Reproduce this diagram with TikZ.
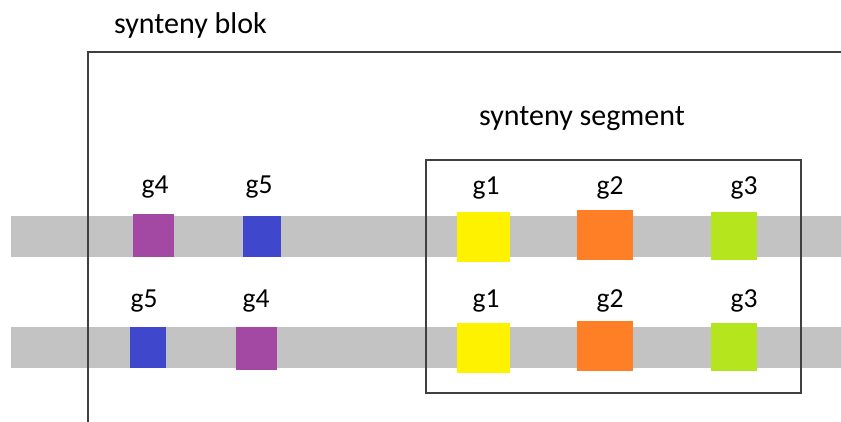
\documentclass[tikz,border=0pt]{standalone}
\usepackage{fontspec}
\setmainfont{Carlito}
\definecolor{barGray}{HTML}{C3C3C3}
\definecolor{gPurple}{HTML}{A349A4}
\definecolor{gBlue}{HTML}{3F48CC}
\definecolor{gYellow}{HTML}{FFF200}
\definecolor{gOrange}{HTML}{FF7F27}
\definecolor{gGreen}{HTML}{B5E61D}
\definecolor{frameGray}{HTML}{404040}
\begin{document}
\begin{tikzpicture}[x=1pt,y=-1pt,
  chrom/.style={fill=barGray, draw=none, inner sep=0pt, minimum height=41pt, minimum width=831pt},
  gene/.style={draw=none, inner sep=0pt},
  glabel/.style={anchor=base, inner sep=0pt, font=\fontsize{27.5}{32}\selectfont},
  title/.style={anchor=base west, inner sep=0pt, font=\fontsize{30}{36}\selectfont},
  frame/.style={draw=frameGray, line width=1.5pt}]
\useasboundingbox (0,0) rectangle (841,421);

% chromosome bars
\node[chrom] (chrA) at (426,236.5) {};
\node[chrom] (chrB) at (426,347.5) {};

% synteny block frame (open to the right and bottom)
\coordinate (blkBL) at (88,421);
\coordinate (blkTL) at (88,52);
\coordinate (blkTR) at (841,52);
\draw[frame, line cap=rect] (blkBL) -- (blkTL) -- (blkTR);
\node[title] (blkLabel) at (114,33) {synteny blok};

% synteny segment frame
\node[draw=frameGray, line width=1.3pt, inner sep=0pt, minimum width=375pt, minimum height=233pt] (seg) at (613.5,276.5) {};
\node[title] (segLabel) at (479,125) {synteny segment};

% genes, upper chromosome
\node[gene, fill=gPurple, minimum width=41pt, minimum height=43pt] (a4) at (153.5,235.5) {};
\node[gene, fill=gBlue,   minimum width=38pt, minimum height=41pt] (a5) at (262,236.5) {};
\node[gene, fill=gYellow, minimum width=53pt, minimum height=50pt] (a1) at (483.5,237) {};
\node[gene, fill=gOrange, minimum width=56pt, minimum height=50pt] (a2) at (605,235) {};
\node[gene, fill=gGreen,  minimum width=46pt, minimum height=48pt] (a3) at (734,236) {};

% genes, lower chromosome
\node[gene, fill=gBlue,   minimum width=36pt, minimum height=41pt] (b5) at (148,347.5) {};
\node[gene, fill=gPurple, minimum width=41pt, minimum height=43pt] (b4) at (256.5,348.5) {};
\node[gene, fill=gYellow, minimum width=53pt, minimum height=50pt] (b1) at (483.5,348) {};
\node[gene, fill=gOrange, minimum width=56pt, minimum height=50pt] (b2) at (605,346) {};
\node[gene, fill=gGreen,  minimum width=46pt, minimum height=48pt] (b3) at (734,347) {};

% gene labels
\node[glabel] (la4) at (155,193) {g4};
\node[glabel] (la5) at (259,193) {g5};
\node[glabel] (la1) at (486,194) {g1};
\node[glabel] (la2) at (610,194) {g2};
\node[glabel] (la3) at (744,194) {g3};
\node[glabel] (lb5) at (144,307) {g5};
\node[glabel] (lb4) at (256,307) {g4};
\node[glabel] (lb1) at (486,307) {g1};
\node[glabel] (lb2) at (610,307) {g2};
\node[glabel] (lb3) at (744,307) {g3};
\end{tikzpicture}
\end{document}
